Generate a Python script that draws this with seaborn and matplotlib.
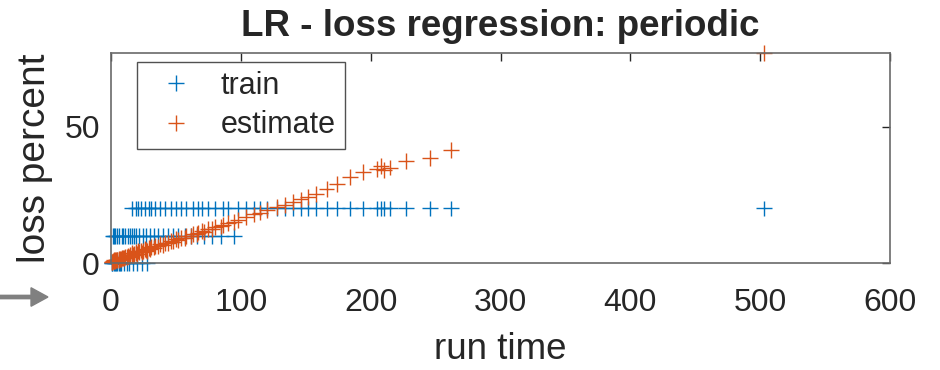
import pandas as pd
import matplotlib
matplotlib.use('Agg')
import matplotlib.pyplot as plt
import seaborn as sns

run_time = [0.5, 1, 2, 3, 4, 5, 6, 7, 8, 10, 12, 14, 17, 20, 24, 28,
            1.5, 2.5, 3.5, 4.5, 6.5, 8.5, 9, 11, 13, 15, 16, 18, 19, 22, 25, 27,
            30, 33, 36, 40, 44, 48, 52, 57, 62, 66, 72, 78, 85, 95,
            16, 19, 21, 23, 26, 29, 31, 34, 38, 42, 46, 50, 54, 58, 63, 67,
            70, 75, 80, 86, 90, 98, 104, 110, 115, 120, 128, 134, 140, 146, 152,
            158, 166, 174, 184, 194, 205, 208, 210, 215, 227, 246, 262, 503]
train = [0] * 16 + [10] * 30 + [20] * 44
estimate = [0.3, 0.4, 0.6, 0.7, 1.0, 1.1, 1.2, 1.4, 1.5, 1.8, 2.1, 2.4, 2.9, 3.3, 3.9, 4.5,
            0.8, 1.0, 1.2, 1.3, 1.6, 1.9, 2.0, 2.3, 2.6, 2.9, 3.1, 3.4, 3.5, 4.0, 4.5, 4.8,
            5.2, 5.7, 6.1, 6.7, 7.3, 7.9, 8.5, 9.2, 10.0, 10.6, 11.5, 12.4, 13.4, 14.9,
            3.6, 4.0, 4.3, 4.6, 5.1, 5.5, 5.8, 6.3, 6.9, 7.5, 8.1, 8.7, 9.3, 9.9, 10.6, 11.2,
            11.7, 12.4, 13.2, 14.1, 14.7, 15.9, 16.8, 17.8, 18.5, 19.3, 20.5, 21.4, 22.4, 23.3, 24.2,
            25.3, 27.0, 29.0, 31.5, 33.5, 34.5, 35.5, 34.0, 35.0, 37.5, 38.5, 41.5, 77.0]
x_ticks = [0, 100, 200, 300, 400, 500, 600]
y_ticks = [0, 50]

df = pd.concat([
    pd.DataFrame({'run time': run_time, 'loss percent': train, 'series': 'train'}),
    pd.DataFrame({'run time': run_time, 'loss percent': estimate, 'series': 'estimate'}),
], ignore_index=True)

sns.set_style('white')
plt.rcParams['font.family'] = ['Liberation Sans', 'DejaVu Sans']

fig = plt.figure(figsize=(9.4, 3.7), dpi=100)
ax = fig.add_axes([0.118, 0.289, 0.829, 0.568])

sns.scatterplot(data=df, x='run time', y='loss percent', hue='series',
                palette={'train': '#0072BD', 'estimate': '#D95319'},
                marker='+', s=130, linewidth=1.0, clip_on=False, ax=ax)

ax.set_xlim(0, 600)
ax.set_ylim(0, 77)
ax.set_xticks(x_ticks)
ax.set_yticks(y_ticks)
ax.tick_params(direction='in', length=6, width=1, colors='#262626',
               labelsize=23, top=True, right=True)
ax.tick_params(axis='x', pad=18)
ax.tick_params(axis='y', pad=8)
for sp in ax.spines.values():
    sp.set_color('#6a6a6a')
    sp.set_linewidth(1.2)

ax.set_title('LR - loss regression: periodic', fontsize=26.5, fontweight='bold', pad=12)
ax.set_xlabel('run time', fontsize=26.5, color='#262626', labelpad=10)
ax.set_ylabel('loss percent', fontsize=28, color='#262626', labelpad=8)

leg = ax.legend(loc='upper left', bbox_to_anchor=(0.033, 0.957), borderaxespad=0,
                fontsize=22, frameon=True, fancybox=False, edgecolor='#262626',
                borderpad=0.3, handletextpad=0.45, labelspacing=0.3, title=None)
leg.get_frame().set_linewidth(1.0)

# gray arrow pointing at the x-axis origin label
fig.patches.append(matplotlib.patches.FancyArrow(
    0.0, 1 - 297 / 370, 0.033, 0, width=0.009, head_width=0.05, head_length=0.018,
    color='#808080', transform=fig.transFigure, length_includes_head=False))

plt.savefig('out.png', dpi=100)
plt.close()
